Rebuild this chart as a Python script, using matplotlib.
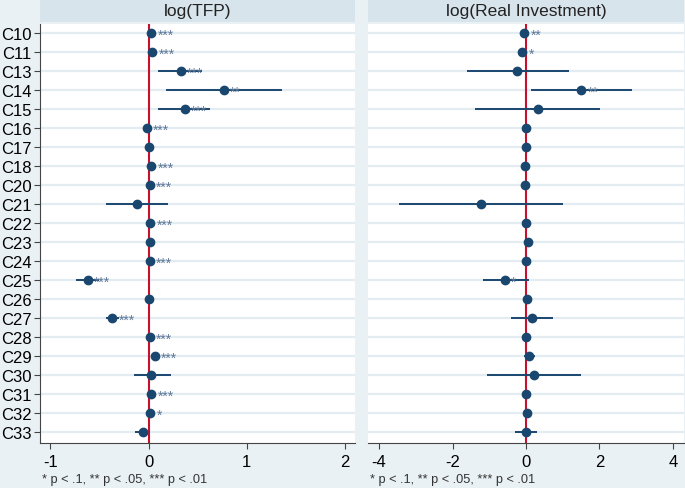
import numpy as np
import matplotlib.pyplot as plt
from matplotlib.patches import Rectangle

plt.rcParams['font.family'] = ['Liberation Sans', 'DejaVu Sans']

# -- Data ------------------------------------------------------------------
industries = ['C10', 'C11', 'C13', 'C14', 'C15', 'C16', 'C17', 'C18', 'C20', 'C21', 'C22',
              'C23', 'C24', 'C25', 'C26', 'C27', 'C28', 'C29', 'C30', 'C31', 'C32', 'C33']

tfp_coef = [0.03, 0.04, 0.33, 0.77, 0.37, -0.02, 0.00, 0.03, 0.01, -0.12, 0.02,
            0.01, 0.01, -0.62, 0.00, -0.37, 0.01, 0.065, 0.03, 0.03, 0.02, -0.06]
tfp_lo = [0.02, 0.03, 0.095, 0.18, 0.095, -0.03, -0.01, 0.02, 0.00, -0.43, 0.01,
          0.00, 0.00, -0.74, -0.01, -0.43, 0.00, 0.05, -0.15, 0.02, 0.01, -0.14]
tfp_hi = [0.04, 0.05, 0.55, 1.36, 0.63, -0.01, 0.01, 0.04, 0.02, 0.20, 0.03,
          0.02, 0.02, -0.51, 0.01, -0.30, 0.02, 0.08, 0.23, 0.04, 0.03, -0.01]
tfp_stars = ['***', '***', '***', '**', '***', '***', '', '***', '***', '', '***',
             '', '***', '***', '', '***', '***', '***', '', '***', '*', '']

inv_coef = [-0.05, -0.10, -0.24, 1.50, 0.32, 0.00, 0.00, -0.02, -0.02, -1.23, 0.00,
            0.06, 0.00, -0.57, 0.03, 0.16, 0.00, 0.08, 0.21, 0.00, 0.03, 0.00]
inv_lo = [-0.08, -0.14, -1.60, 0.13, -1.40, -0.03, -0.03, -0.05, -0.05, -3.46, -0.03,
          -0.05, -0.03, -1.18, 0.00, -0.41, -0.03, -0.05, -1.06, -0.03, 0.00, -0.31]
inv_hi = [-0.02, -0.06, 1.16, 2.88, 2.01, 0.03, 0.03, 0.01, 0.01, 1.02, 0.03,
          0.18, 0.03, 0.08, 0.06, 0.73, 0.03, 0.24, 1.49, 0.03, 0.06, 0.31]
inv_stars = ['**', '*', '', '**', '', '', '', '', '', '', '',
             '', '', '*', '', '', '', '', '', '', '', '']

titles = ['log(TFP)', 'log(Real Investment)']
note = '* p < .1, ** p < .05, *** p < .01'

# -- Style -----------------------------------------------------------------
bg = '#eaf1f4'
strip = '#d8e4eb'
grid_c = '#e3ecf1'
navy = '#1a476f'
red = '#c8102e'
star_c = '#5b7796'

W, H = 685, 489
fig = plt.figure(figsize=(W / 100, H / 100), dpi=100, facecolor=bg)

def box(x0, y0, x1, y1):
    return [x0 / W, 1 - y1 / H, (x1 - x0) / W, (y1 - y0) / H]

panels = [
    dict(px=(40, 355), coef=tfp_coef, lo=tfp_lo, hi=tfp_hi, stars=tfp_stars,
         xlim=(-1.107, 2.106), xticks=[-1, 0, 1, 2]),
    dict(px=(368, 684), coef=inv_coef, lo=inv_lo, hi=inv_hi, stars=inv_stars,
         xlim=(-4.30, 4.30), xticks=[-4, -2, 0, 2, 4]),
]

y = np.arange(len(industries))

for i, p in enumerate(panels):
    x0, x1 = p['px']
    # title strip
    fig.patches.append(Rectangle((x0 / W, 1 - 23 / H), (x1 - x0) / W, 23 / H,
                                 transform=fig.transFigure, facecolor=strip,
                                 edgecolor='none', zorder=0))
    fig.text((x0 + x1) / 2 / W, 1 - 11.5 / H, titles[i], ha='center', va='center',
             fontsize=12.5, color='#222222')

    ax = fig.add_axes(box(x0, 25, x1, 444))
    ax.set_facecolor('white')
    for yy in y:
        ax.axhline(yy, color=grid_c, lw=1.6, zorder=1)
    ax.axvline(0, color=red, lw=1.5, zorder=2)
    coef = np.array(p['coef'])
    ax.hlines(y, p['lo'], p['hi'], color=navy, lw=1.4, zorder=3)
    ax.plot(coef, y, 'o', color=navy, ms=6, zorder=4)
    for yy, c, s in zip(y, coef, p['stars']):
        if s:
            ax.annotate(s, (c, yy), xytext=(4.5, -1), textcoords='offset points',
                        ha='left', va='center', fontsize=10, color=star_c, zorder=5)

    ax.set_xlim(*p['xlim'])
    ax.set_ylim(21.58, -0.47)
    ax.set_xticks(p['xticks'])
    ax.set_xticklabels([str(t) for t in p['xticks']], fontsize=12)
    ax.tick_params(axis='x', length=4, width=0.8, color='#444444', pad=4)
    for side in ['top', 'right']:
        ax.spines[side].set_visible(False)
    ax.spines['bottom'].set_color('#444444')
    ax.spines['bottom'].set_linewidth(0.8)
    if i == 0:
        ax.set_yticks(y)
        ax.set_yticklabels(industries, fontsize=12)
        ax.tick_params(axis='y', length=4, width=0.8, color='#444444', pad=2)
        ax.spines['left'].set_color('#444444')
        ax.spines['left'].set_linewidth(0.8)
    else:
        ax.set_yticks([])
        ax.spines['left'].set_visible(False)

    fig.text((x0 + 2) / W, 1 - 480 / H, note, ha='left', va='center',
             fontsize=9.2, color='#333333')

fig.savefig('out.png', dpi=100, facecolor=bg)
